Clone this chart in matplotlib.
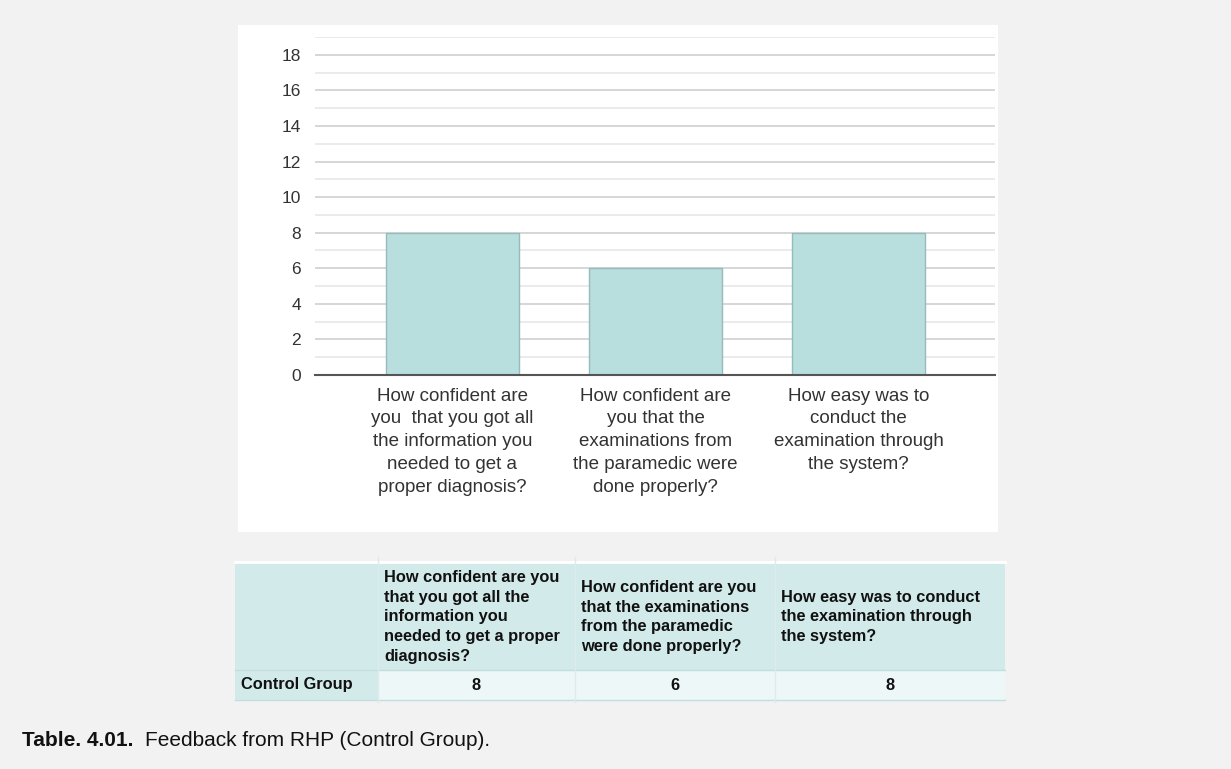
import matplotlib.pyplot as plt
from matplotlib.patches import Rectangle

plt.rcParams['font.family'] = ['Liberation Sans', 'DejaVu Sans']

# data
questions = [
    "How confident are\nyou  that you got all\nthe information you\nneeded to get a\nproper diagnosis?",
    "How confident are\nyou that the\nexaminations from\nthe paramedic were\ndone properly?",
    "How easy was to\nconduct the\nexamination through\nthe system?",
]
table_headers = [
    "How confident are you\nthat you got all the\ninformation you\nneeded to get a proper\ndiagnosis?",
    "How confident are you\nthat the examinations\nfrom the paramedic\nwere done properly?",
    "How easy was to conduct\nthe examination through\nthe system?",
]
group = "Control Group"
values = [8, 6, 8]
caption_bold = "Table. 4.01."
caption_text = "Feedback from RHP (Control Group)."

W, H = 1231, 769
fig = plt.figure(figsize=(W / 100, H / 100), dpi=100, facecolor='#f2f2f2')

# background layer in pixel coordinates
bg = fig.add_axes([0, 0, 1, 1])
bg.set_xlim(0, W)
bg.set_ylim(H, 0)
bg.axis('off')
bg.add_patch(Rectangle((238, 25), 760, 507, facecolor='white', edgecolor='none'))

# table
col_x = [235, 378, 575, 775, 1005]
head_top, head_bot, row_bot = 562, 670, 700
head_col = '#d3eaea'
row_col = '#eef7f7'
line_col = '#c2dede'
bg.add_patch(Rectangle((col_x[0], head_top), col_x[-1] - col_x[0], head_bot - head_top,
                       facecolor=head_col, edgecolor='none'))
bg.add_patch(Rectangle((col_x[0], head_bot), col_x[1] - col_x[0], row_bot - head_bot,
                       facecolor=head_col, edgecolor='none'))
bg.add_patch(Rectangle((col_x[1], head_bot), col_x[-1] - col_x[1], row_bot - head_bot,
                       facecolor=row_col, edgecolor='none'))
bg.plot([col_x[0], col_x[-1]], [head_top, head_top], color='white', lw=2)
bg.plot([col_x[0], col_x[-1]], [head_bot, head_bot], color=line_col, lw=1)
bg.plot([col_x[0], col_x[-1]], [row_bot, row_bot], color=line_col, lw=1)
for x in col_x[1:-1]:
    bg.plot([x, x], [head_top - 5, row_bot + 2], color='#dcecec', lw=1)

fs_tab = 11.8
for i, txt in enumerate(table_headers):
    bg.text(col_x[i + 1] + 6, (head_top + head_bot) / 2 + 1, txt, ha='left', va='center',
            fontsize=fs_tab, fontweight='bold', color='#111111', linespacing=1.38)
    bg.text((col_x[i + 1] + col_x[i + 2]) / 2, (head_bot + row_bot) / 2, str(values[i]),
            ha='center', va='center', fontsize=fs_tab, fontweight='bold', color='#111111')
bg.text(col_x[0] + 6, (head_bot + row_bot) / 2, group, ha='left', va='center',
        fontsize=fs_tab, fontweight='bold', color='#111111')

# caption
t = bg.text(22, 740, caption_bold + "  ", ha='left', va='center', fontsize=15,
            fontweight='bold', color='#111111')
fig.canvas.draw()
bb = t.get_window_extent()
bg.text(22 + bb.width, 740, caption_text, ha='left', va='center', fontsize=15, color='#111111')

# bar chart
ax = fig.add_axes([315 / W, (H - 375) / H, 680 / W, (375 - 37) / H])
ax.set_facecolor('none')
x = range(len(values))
ax.bar(x, values, width=0.655, color='#b9dede', edgecolor='#94bcbc', linewidth=1, zorder=3)
ax.set_xlim(-0.675, 2.67)
ax.set_ylim(0, 19)
ax.set_yticks(range(0, 19, 2))
ax.set_yticks(range(1, 20, 2), minor=True)
ax.grid(axis='y', which='major', color='#cfcfcf', lw=1.2, zorder=0)
ax.grid(axis='y', which='minor', color='#e8e8e8', lw=1.2, zorder=0)
ax.axhline(0, color='#555555', lw=1.5, zorder=4, clip_on=False)
for s in ax.spines.values():
    s.set_visible(False)
ax.tick_params(axis='both', which='both', length=0)
ax.tick_params(axis='y', labelsize=12.5, labelcolor='#333333', pad=10)
ax.set_xticks(list(x))
ax.set_xticklabels(questions, fontsize=13.5, color='#333333', linespacing=1.45)
ax.tick_params(axis='x', pad=9)

fig.savefig('out.png', dpi=100, facecolor=fig.get_facecolor())
